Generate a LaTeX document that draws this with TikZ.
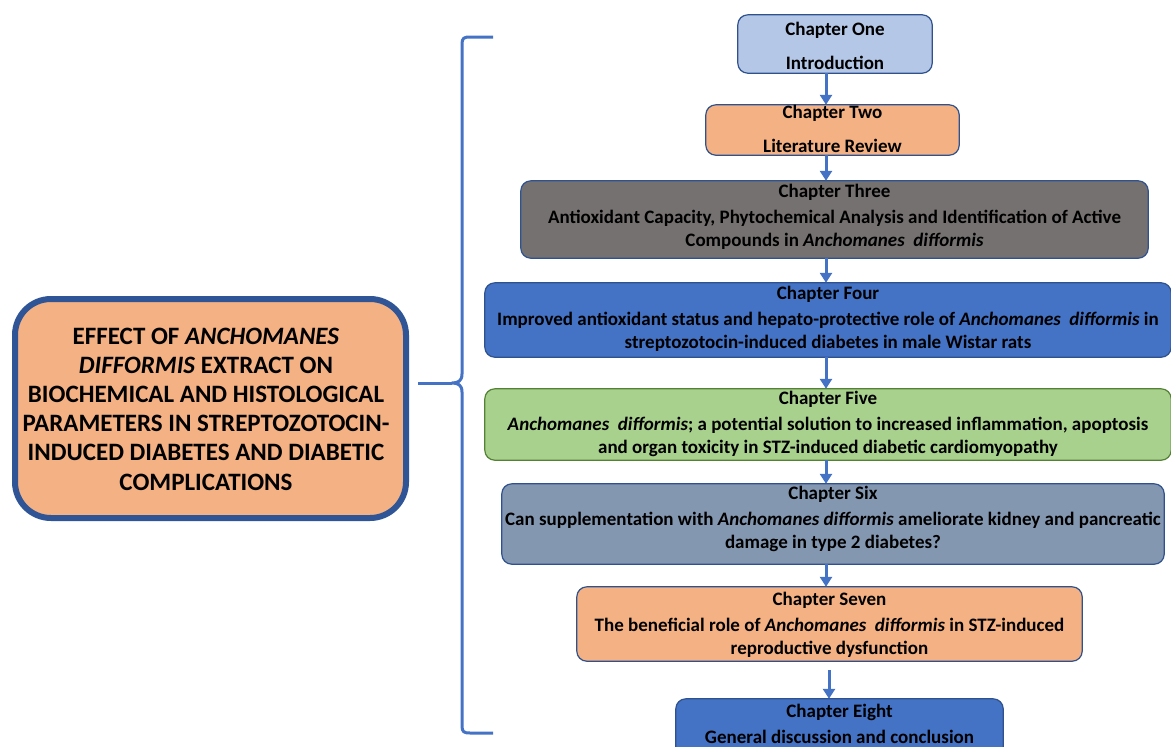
\documentclass[tikz,border=0pt]{standalone}
\usepackage{fontspec}
\setmainfont{Carlito}
\usetikzlibrary{arrows.meta}
\definecolor{lblue}{HTML}{B4C7E7}
\definecolor{orng}{HTML}{F4B183}
\definecolor{gry}{HTML}{767171}
\definecolor{mblue}{HTML}{4472C4}
\definecolor{grn}{HTML}{A9D18E}
\definecolor{slate}{HTML}{8497B0}
\definecolor{bord}{HTML}{2F528F}
\definecolor{gbord}{HTML}{548235}
\definecolor{mainb}{HTML}{2F5597}
\tikzset{
  chbox/.style={draw=bord, line width=1.2pt, rounded corners=10pt},
  chtext/.style={align=center, font=\fontsize{19}{23}\selectfont\bfseries, inner sep=0pt},
  arr/.style={draw=mblue, line width=3pt, -{Triangle[width=12pt,length=10pt]}},
  brace/.style={draw=mblue, line width=3pt, line join=round},
}
\begin{document}
\begin{tikzpicture}[x=1pt,y=-1pt]
\useasboundingbox (0,0) rectangle (1171,747);
% main box
\node[draw=mainb, line width=6pt, fill=orng, rounded corners=36pt, minimum width=391pt, minimum height=219pt] (main) at (210.5,408.5) {};
\node[align=center, font=\fontsize{25}{29.2}\selectfont\bfseries, inner sep=0pt] (maint) at (206,409) {EFFECT OF \textit{ANCHOMANES}\\\textit{DIFFORMIS} EXTRACT ON\\BIOCHEMICAL AND HISTOLOGICAL\\PARAMETERS IN STREPTOZOTOCIN-\\INDUCED DIABETES AND DIABETIC\\COMPLICATIONS};
% chapter boxes
\node[inner sep=0pt, minimum width=194pt, minimum height=58pt] (b1) at (835,44) {};
\node[inner sep=0pt, minimum width=253pt, minimum height=50pt] (b2) at (832.5,130) {};
\node[inner sep=0pt, minimum width=627pt, minimum height=77pt] (b3) at (834.5,219.5) {};
\node[inner sep=0pt, minimum width=686pt, minimum height=74pt] (b4) at (828,320) {};
\node[inner sep=0pt, minimum width=686pt, minimum height=71pt] (b5) at (828,424.5) {};
\node[inner sep=0pt, minimum width=662pt, minimum height=80pt] (b6) at (833,524) {};
\node[inner sep=0pt, minimum width=505pt, minimum height=74pt] (b7) at (829.5,624) {};
\node[inner sep=0pt, minimum width=327pt, minimum height=64pt] (b8) at (839.5,731) {};
\path[chbox, fill=lblue] (b1.south west) rectangle (b1.north east);
\path[chbox, fill=orng] (b2.south west) rectangle (b2.north east);
\path[chbox, fill=gry] (b3.south west) rectangle (b3.north east);
\path[chbox, fill=mblue] (b4.south west) rectangle (b4.north east);
\path[chbox, fill=grn, draw=gbord] (b5.south west) rectangle (b5.north east);
\path[chbox, fill=slate] (b6.south west) rectangle (b6.north east);
\path[chbox, fill=orng] (b7.south west) rectangle (b7.north east);
\path[chbox, fill=mblue] (b8.south west) rectangle (b8.north east);
% texts
\node[chtext] (t1) at (835,45.5) {Chapter One\\[11pt]Introduction};
\node[chtext] (t2) at (832.5,129) {Chapter Two\\[11pt]Literature Review};
\node[chtext] (t3) at (834.5,216.5) {Chapter Three\\[3pt]Antioxidant Capacity, Phytochemical Analysis and Identification of Active\\Compounds in \textit{Anchomanes\ \ difformis}};
\node[chtext] (t4) at (828,318.5) {Chapter Four\\[3pt]Improved antioxidant status and hepato-protective role of \textit{Anchomanes\ \ difformis} in\\streptozotocin-induced diabetes in male Wistar rats};
\node[chtext] (t5) at (828,424) {Chapter Five\\[3pt]\textit{Anchomanes\ \ difformis}; a potential solution to increased inflammation, apoptosis\\and organ toxicity in STZ-induced diabetic cardiomyopathy};
\node[chtext] (t6) at (833,519) {Chapter Six\\[3pt]Can supplementation with \textit{Anchomanes difformis} ameliorate kidney and pancreatic\\damage in type 2 diabetes?};
\node[chtext] (t7) at (829.5,625) {Chapter Seven\\[3pt]The beneficial role of \textit{Anchomanes\ \ difformis} in STZ-induced\\reproductive dysfunction};
\node[chtext] (t8) at (839.5,724) {Chapter Eight\\[3pt]General discussion and conclusion};
% arrows
\coordinate (ax) at (826,0);
\coordinate (ax2) at (829,0);
\draw[arr] (b1.south -| ax) -- (b2.north -| ax);
\draw[arr] (b2.south -| ax) -- (b3.north -| ax);
\draw[arr] (b3.south -| ax) -- (b4.north -| ax);
\draw[arr] (b4.south -| ax) -- (b5.north -| ax);
\draw[arr] (b5.south -| ax) -- (b6.north -| ax);
\draw[arr] (b6.south -| ax) -- (b7.north -| ax);
\draw[arr] ([yshift=-9pt]b7.south -| ax2) -- (b8.north -| ax2);
% brace
\coordinate (btop) at (493,37);
\coordinate (bbot) at (493,733);
\coordinate (cusp) at (452,383);
\draw[brace] (btop) -- (470,37) .. controls (464,37) and (462,38) .. (462,44) -- (462,374) .. controls (462,381) and (458,383) .. (cusp) .. controls (458,383) and (462,385) .. (462,392) -- (462,726) .. controls (462,732) and (464,733) .. (470,733) -- (bbot);
\draw[brace] ([xshift=9pt]main.east |- cusp) -- (cusp);
\end{tikzpicture}
\end{document}
